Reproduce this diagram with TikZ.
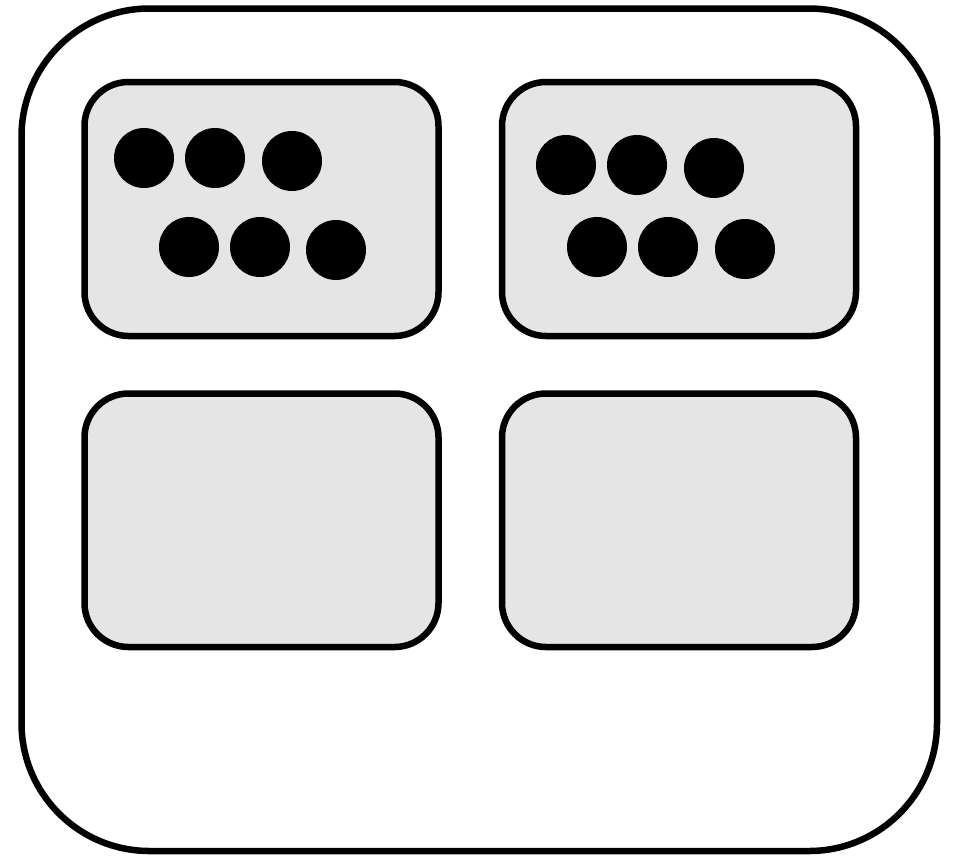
\documentclass[tikz,border=0pt]{standalone}
\begin{document}
\begin{tikzpicture}[x=1pt,y=-1pt,
  outerbox/.style={draw=black,line width=6.5pt,rounded corners=128pt,fill=white},
  panel/.style={draw=black,line width=6.5pt,rounded corners=44pt,fill=black!10},
  dot/.style={fill=black}]
\useasboundingbox (0,0) rectangle (953,855);
\draw[outerbox] (21.5,8.5) rectangle (937,851);
\draw[panel] (84.5,82) rectangle (438.5,336);
\draw[panel] (502,82) rectangle (856,336);
\draw[panel] (84.5,393.5) rectangle (438.5,647);
\draw[panel] (502,393.5) rectangle (856,647);
\foreach \p in {(144,158),(215,158),(292,161),(189,247),(260,247),(336,250),
                (566,165),(637,165),(714,168),(597,247),(668,247),(745,249)}
  \fill[dot] \p circle (30pt);
\end{tikzpicture}
\end{document}
